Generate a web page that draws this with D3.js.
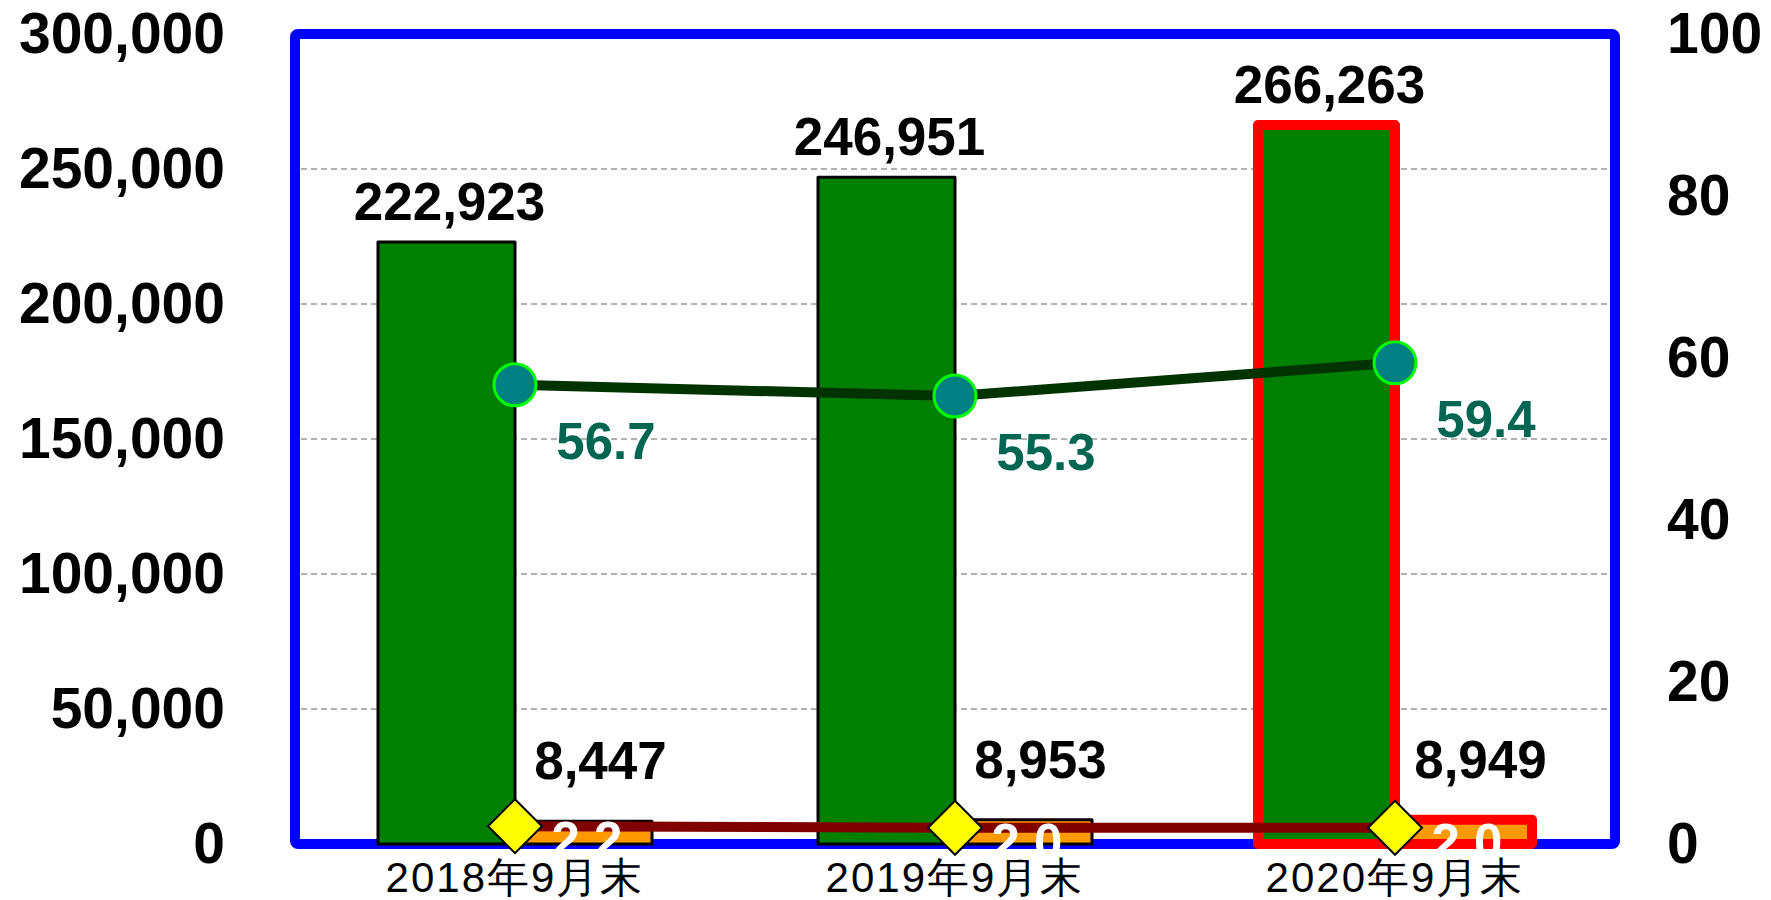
<!DOCTYPE html>
<html>
<head>
<meta charset="utf-8">
<script src="https://cdn.jsdelivr.net/npm/d3@7"></script>
<style>
  body { margin: 0; background: #fff; }
  svg { display: block; }
  text { font-family: "Liberation Sans", Arial, sans-serif; }
</style>
</head>
<body>
<svg id="svg" width="1771" height="900"></svg>
<script>
// data
const categories = ['2018年9月末', '2019年9月末', '2020年9月末']
const totalValues = [222923, 246951, 266263]
const smallValues = [8447, 8953, 8949]
const greenRates = [56.7, 55.3, 59.4]
const redRates = [2.2, 2.0, 2.0]
const leftTicks = [0, 50000, 100000, 150000, 200000, 250000, 300000]
const rightTicks = [0, 20, 40, 60, 80, 100]
const highlighted = '2020年9月末'

const svg = d3.select('#svg')
const plotL = 295, plotR = 1615, plotT = 34, plotB = 844

const x = d3.scaleBand().domain(categories).range([plotL, plotR])
const yL = d3.scaleLinear().domain([0, 300000]).range([plotB, plotT])
const yR = d3.scaleLinear().domain([0, 100]).range([plotB, plotT])
const barW = 137
const mid = d => x(d) + x.bandwidth() / 2

const rows = categories.map((c, i) => ({
  cat: c, total: totalValues[i], small: smallValues[i], g: greenRates[i], r: redRates[i]
}))

// frame
svg.append('rect')
  .attr('x', plotL).attr('y', plotT)
  .attr('width', plotR - plotL).attr('height', plotB - plotT)
  .attr('rx', 3)
  .attr('fill', 'none').attr('stroke', '#0000ff').attr('stroke-width', 10)
  .attr('stroke-linejoin', 'round')

// grid
svg.append('g').selectAll('line')
  .data(leftTicks.filter(t => t > 0 && t < 300000))
  .enter().append('line')
  .attr('x1', plotL + 6).attr('x2', plotR - 6)
  .attr('y1', d => yL(d)).attr('y2', d => yL(d))
  .attr('stroke', '#999').attr('stroke-width', 1.5).attr('stroke-dasharray', '6,4')

// axes
const axL = svg.append('g').attr('transform', `translate(${plotL},0)`)
  .call(d3.axisLeft(yL).tickValues(leftTicks).tickFormat(d3.format(',')).tickSize(0).tickPadding(70))
const axR = svg.append('g').attr('transform', `translate(${plotR},0)`)
  .call(d3.axisRight(yR).tickValues(rightTicks).tickSize(0).tickPadding(52))
;[axL, axR].forEach(a => {
  a.select('.domain').remove()
  a.selectAll('text').attr('font-size', 57).attr('font-weight', 'bold')
    .attr('font-family', '"Liberation Sans", Arial, sans-serif').attr('fill', '#000')
})
const axB = svg.append('g').attr('transform', `translate(0,${plotB})`)
  .call(d3.axisBottom(x).tickSize(0).tickPadding(18))
axB.select('.domain').remove()
axB.selectAll('text').attr('font-size', 42).attr('fill', '#000')
  .attr('letter-spacing', 2)
  .attr('font-family', '"Noto Sans CJK JP", sans-serif')

// bars
const isHi = d => d.cat === highlighted
svg.append('g').selectAll('rect')
  .data(rows).enter().append('rect')
  .attr('x', d => mid(d.cat) - barW)
  .attr('y', d => yL(d.total))
  .attr('width', barW)
  .attr('height', d => plotB - yL(d.total))
  .attr('fill', '#008000')
  .attr('stroke', d => isHi(d) ? '#ff0000' : '#000')
  .attr('stroke-width', d => isHi(d) ? 10 : 3)
  .attr('stroke-linejoin', 'round')

svg.append('g').selectAll('rect')
  .data(rows).enter().append('rect')
  .attr('x', d => mid(d.cat))
  .attr('y', d => yL(d.small))
  .attr('width', barW)
  .attr('height', d => plotB - yL(d.small))
  .attr('fill', '#ff9900')
  .attr('stroke', d => isHi(d) ? '#ff0000' : '#000')
  .attr('stroke-width', d => isHi(d) ? 10 : 3)
  .attr('stroke-linejoin', 'round')

// lines
const lineG = d3.line().x(d => mid(d.cat)).y(d => yR(d.g))
const lineR = d3.line().x(d => mid(d.cat)).y(d => yR(d.r))
svg.append('path').datum(rows).attr('d', lineG)
  .attr('fill', 'none').attr('stroke', '#003300').attr('stroke-width', 10)
svg.append('path').datum(rows).attr('d', lineR)
  .attr('fill', 'none').attr('stroke', '#800000').attr('stroke-width', 10)

svg.append('g').selectAll('circle')
  .data(rows).enter().append('circle')
  .attr('cx', d => mid(d.cat)).attr('cy', d => yR(d.g)).attr('r', 21)
  .attr('fill', '#008080').attr('stroke', '#00ff00').attr('stroke-width', 3)

svg.append('g').selectAll('path')
  .data(rows).enter().append('path')
  .attr('transform', d => `translate(${mid(d.cat)},${yR(d.r)})`)
  .attr('d', 'M0,-27L27,0L0,27L-27,0Z')
  .attr('fill', '#ffff00').attr('stroke', '#000').attr('stroke-width', 2)

// labels
const bold = sel => sel.attr('font-weight', 'bold').attr('text-anchor', 'middle')
bold(svg.append('g').selectAll('text').data(rows).enter().append('text'))
  .attr('x', d => mid(d.cat) - barW / 2 + 3)
  .attr('y', d => yL(d.total) - 22)
  .attr('font-size', 53)
  .text(d => d3.format(',')(d.total))

bold(svg.append('g').selectAll('text').data(rows).enter().append('text'))
  .attr('x', d => mid(d.cat) + barW / 2 + 17)
  .attr('y', d => yL(d.small) - 42)
  .attr('font-size', 53)
  .text(d => d3.format(',')(d.small))

bold(svg.append('g').selectAll('text').data(rows).enter().append('text'))
  .attr('x', d => mid(d.cat) + 91)
  .attr('y', d => yR(d.g) + 74)
  .attr('font-size', 51).attr('fill', '#006652')
  .text(d => d3.format('.1f')(d.g))

bold(svg.append('g').selectAll('text').data(rows).enter().append('text'))
  .attr('x', d => mid(d.cat) + 72)
  .attr('y', d => yR(d.r) + 32)
  .attr('font-size', 51).attr('fill', '#fff')
  .text(d => d3.format('.1f')(d.r))
</script>
</body>
</html>
